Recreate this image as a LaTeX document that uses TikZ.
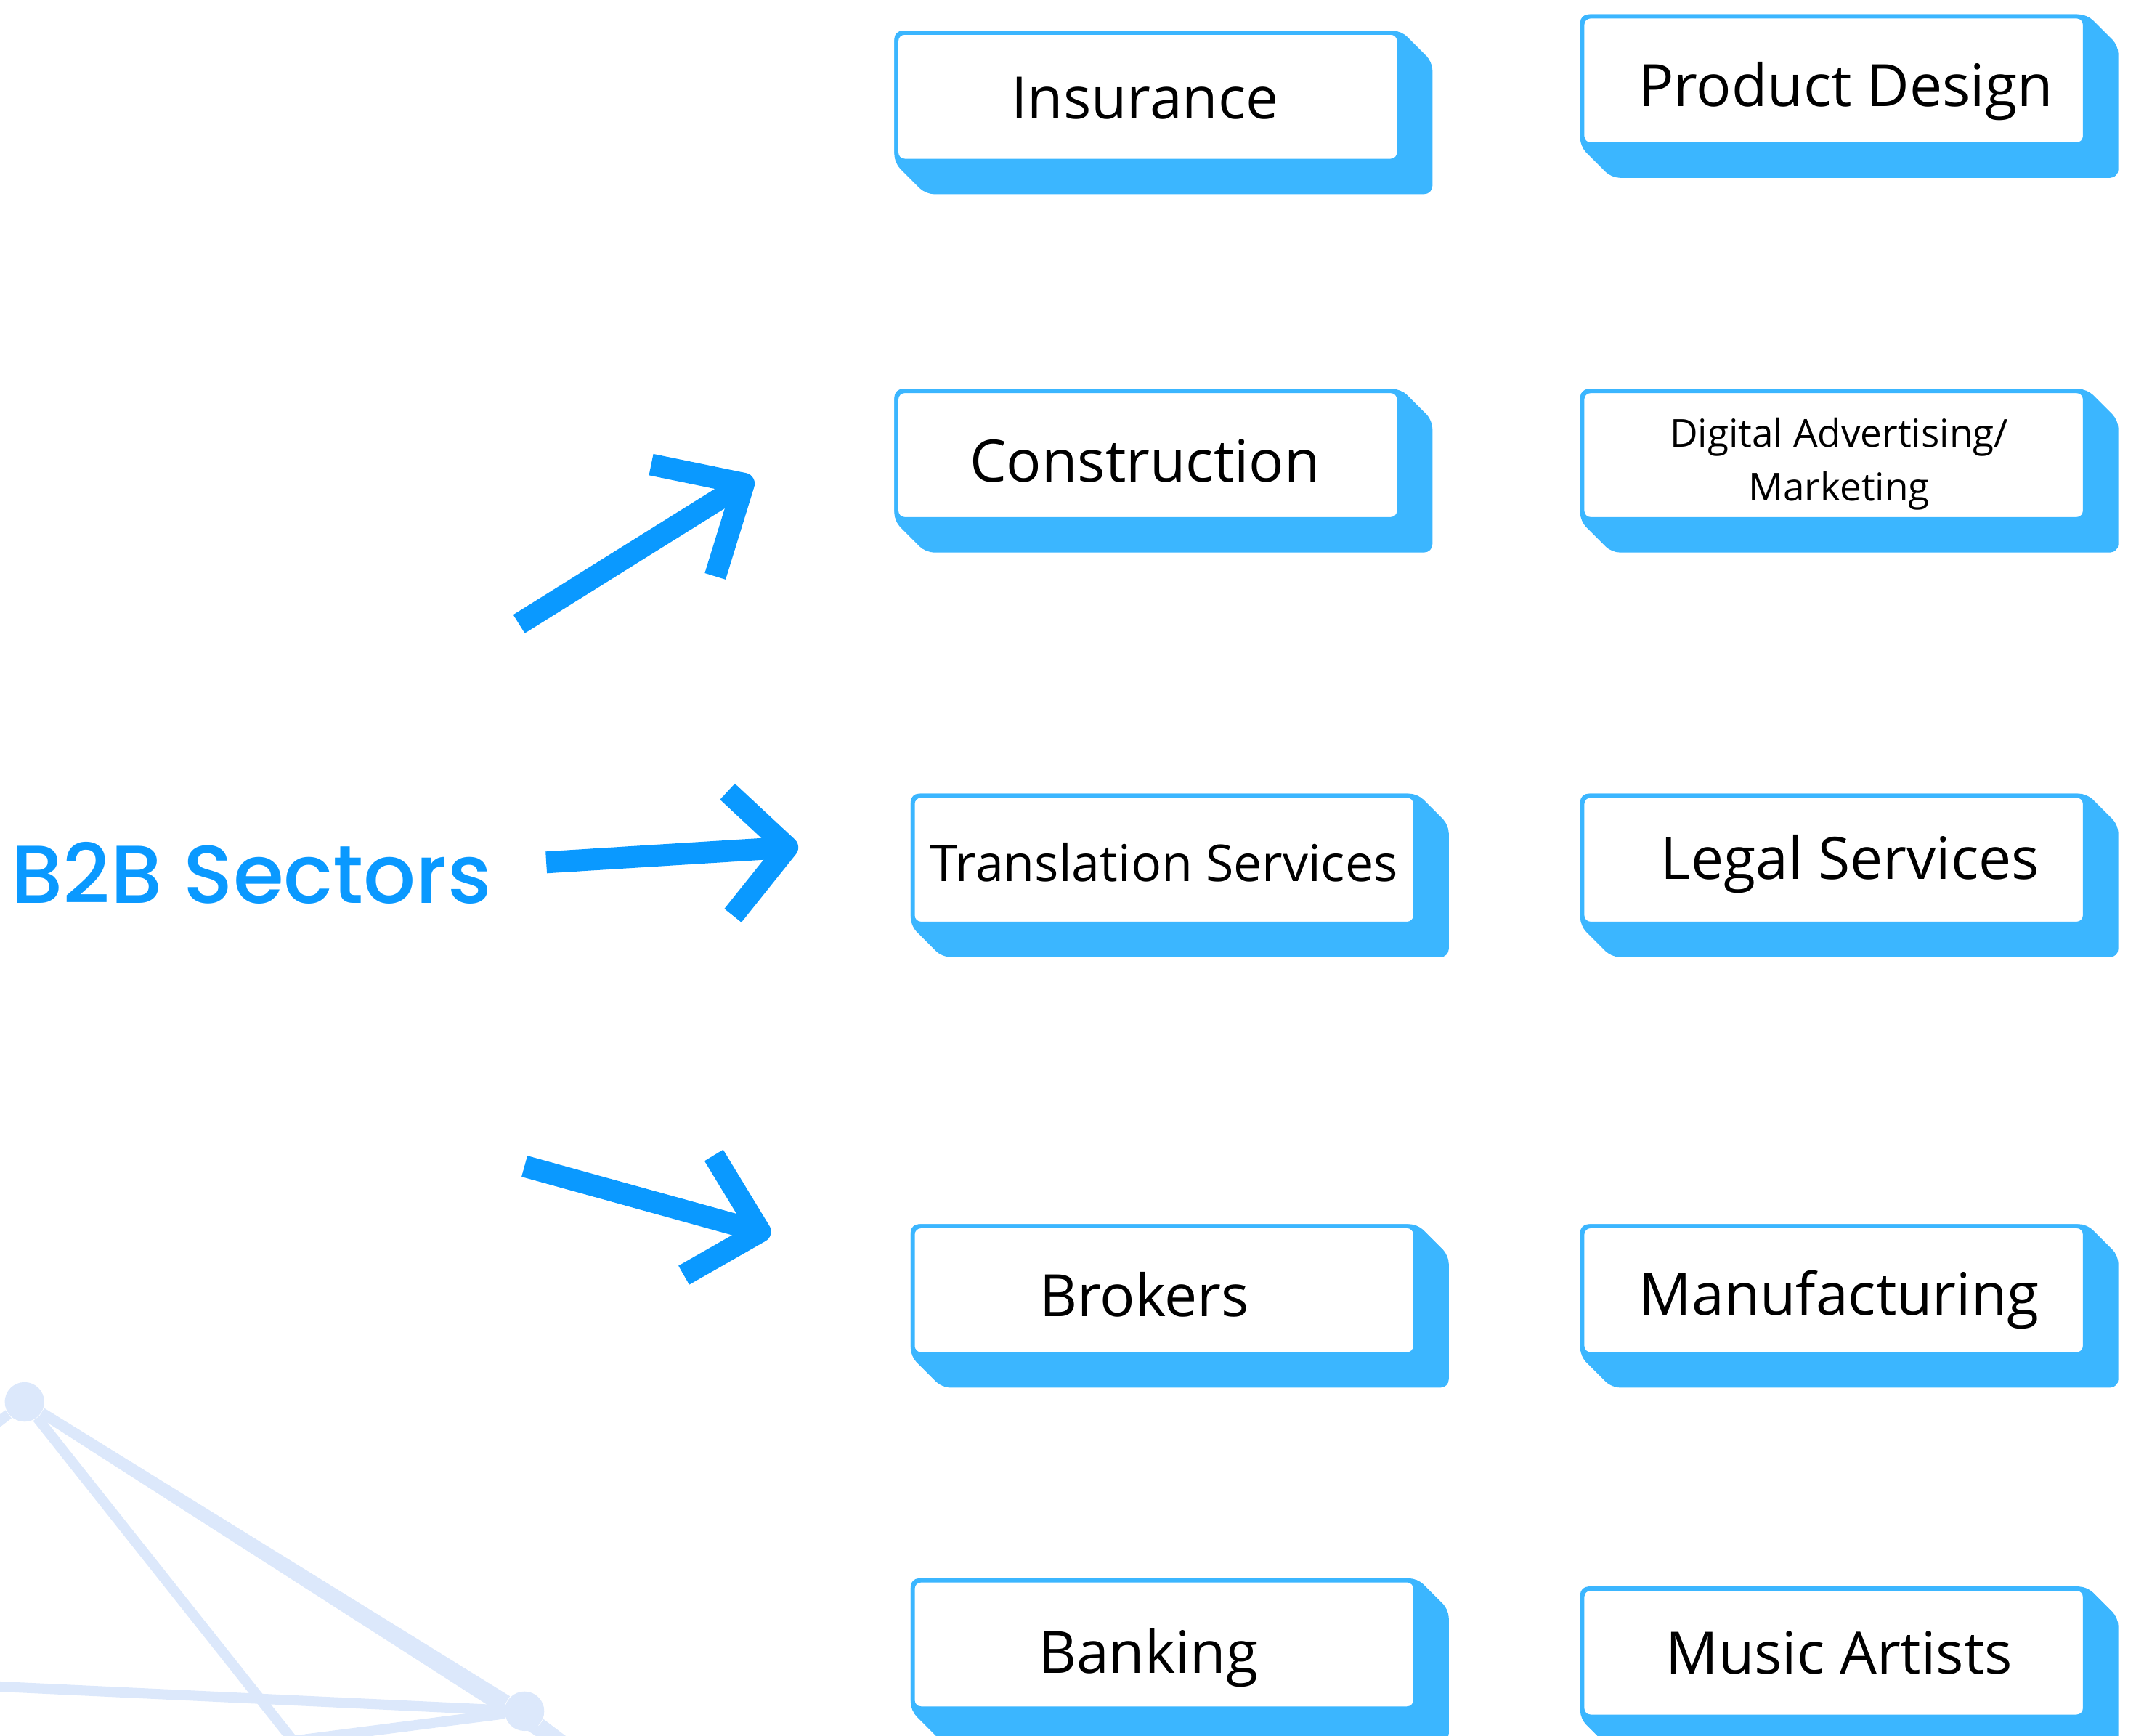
\documentclass[tikz,border=0pt]{standalone}
\usepackage{fontspec}
\setmainfont{Open Sans}
\newfontfamily\poppins{Poppins Medium}
\usetikzlibrary{backgrounds}
\usetikzlibrary{positioning}
\definecolor{boxblue}{HTML}{3BB6FF}
\definecolor{arrowblue}{HTML}{0A99FF}
\definecolor{netblue}{HTML}{DCE8FB}

\tikzset{
  every sector/.style={draw=boxblue, line width=0.6mm, fill=white, rounded corners=1.2mm,
    minimum width=73.8mm, minimum height=18.8mm, inner sep=0pt},
  every label/.style={inner sep=0pt, align=center, font=\fontsize{24.4}{28}\selectfont},
  label translation/.style={font=\fontsize{21.2}{25}\selectfont},
  label digital/.style={font=\fontsize{16.1}{22.2}\selectfont},
  sector shadow/.style={fill=boxblue, rounded corners=1.2mm},
  big arrow/.style={draw=arrowblue, line width=3.2mm, line join=round, line cap=butt},
  net line/.style={draw=netblue, line width=1.5mm},
  net node/.style={circle, fill=netblue, minimum size=5.8mm, inner sep=0pt},
}

\begin{document}
\begin{tikzpicture}[x=0.2mm, y=-0.2mm]
\useasboundingbox (0,0) rectangle (1568,1274);
\clip (0,0) rectangle (1568,1274);

% Network in the corner
\node [net node] (net-1) at (18,1029) {};
\node [net node] (net-2) at (385,1256) {};
\coordinate (net-a) at (-20,1058);
\coordinate (net-b) at (225,1290);
\coordinate (net-c) at (425,1290);
\coordinate (net-d) at (-20,1237);
\coordinate (net-e) at (120,1290);
\coordinate (net-f) at (430,1290);
\begin{scope}[on background layer]
\foreach \a/\b in {net-1/net-a, net-1/net-b, net-1/net-2, net-1/net-c,
                   net-d/net-2, net-2/net-e, net-2/net-f}
  \draw [net line] (\a) -- (\b);
\end{scope}

% Title
\node [font=\poppins\fontsize{34.3}{40}\selectfont, text=arrowblue, anchor=base west,
       inner sep=0pt] (title) at (8,663) {B2B Sectors};

% Sector boxes
\foreach \m/\x/\y in {insurance/842.5/71, construction/842.5/334,
                      translation/854.5/631, brokers/854.5/947, banking/854.5/1207,
                      product/1346/59, digital/1346/334, legal/1346/631,
                      manufacturing/1346/947, music/1346/1213}
  \node [every sector/.try] (\m) at (\x,\y) {};

% Sector names
\foreach \m/\x/\y/\l in {insurance/840.5/72/Insurance,
                         construction/840.5/338/Construction,
                         translation/854.5/633/Translation Services,
                         brokers/840/950/Brokers,
                         banking/843/1217/Banking,
                         product/1355/67/Product Design,
                         digital/1350/340.5/{Digital Advertising/\\Marketing},
                         legal/1358/634/Legal Services,
                         manufacturing/1350/954/Manufacturing,
                         music/1350/1213/Music Artists}
  \node [every label/.try, label \m/.try] (\m-label) at (\x,\y) {\l};

% Box shadows
\begin{scope}[on background layer]
\foreach \m in {insurance,construction,translation,brokers,banking,
                product,digital,legal,manufacturing,music}
  \fill [sector shadow] (\m.north west) -- (\m.north east)
    -- ([shift={(23,23)}]\m.north east) -- ([shift={(23,23)}]\m.south east)
    -- ([shift={(23,23)}]\m.south west) -- (\m.south west) -- cycle;
\end{scope}

% Arrows
\coordinate (up-tail) at (381,458);
\coordinate (up-tip) at (546,355);
\coordinate (up-barb-1) at (478,341);
\coordinate (up-barb-2) at (525,423);
\coordinate (mid-tail) at (401,633);
\coordinate (mid-tip) at (578,622);
\coordinate (mid-barb-1) at (534,581);
\coordinate (mid-barb-2) at (538,672);
\coordinate (down-tail) at (385,856);
\coordinate (down-tip) at (558,904);
\coordinate (down-barb-1) at (524,848);
\coordinate (down-barb-2) at (502,936);
\foreach \d in {up,mid,down} {
  \draw [big arrow] (\d-tail) -- (\d-tip);
  \draw [big arrow] (\d-barb-1) -- (\d-tip) -- (\d-barb-2);
}

\end{tikzpicture}
\end{document}
